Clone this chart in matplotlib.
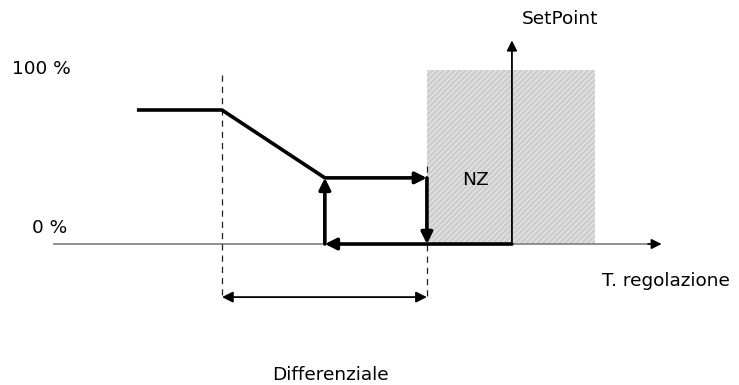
import matplotlib.pyplot as plt
import matplotlib.patches as patches

# temperature scale: setpoint at 0, output in percent
setpoint = 0.0
nz_band = [-10.0, 9.8]           # neutral zone
diff_band = [-34.1, -10.0]       # differenziale
curve_t = [-44.1, -34.1, -22.0]  # output ramp
curve_out = [77.0, 77.0, 38.0]
hyst_t = [-22.0, -10.0]          # hysteresis loop
hyst_out = [38.0, 0.0]
levels = [0.0, 100.0]
level_labels = ['0 %', '100 %']

fig = plt.figure(figsize=(7.39, 3.85), dpi=100)
ax = fig.add_axes([0, 0, 1, 1])
ax.set_xlim(-60.2, 26.7)
ax.set_ylim(-81, 140.2)
ax.axis('off')

def arrow(x0, y0, x1, y1, lw=2.6, color='black', ms=17, style='-|>'):
    ax.annotate('', xy=(x1, y1), xytext=(x0, y0),
                arrowprops=dict(arrowstyle=style, lw=lw, color=color,
                                mutation_scale=ms, shrinkA=0, shrinkB=0))

# neutral zone box
ax.add_patch(patches.Rectangle((nz_band[0], levels[0]), nz_band[1] - nz_band[0],
                               levels[1], facecolor='#cdcdcd', edgecolor='#e4e4e4',
                               hatch='//////', linewidth=0, zorder=1))

# axes
ax.plot([-53.8, 17.0], [0, 0], color='#888888', lw=1.3, zorder=2)
arrow(16.0, 0, 17.6, 0, lw=1.2, ms=15)
arrow(setpoint, 0, setpoint, 117, lw=1.3, ms=15)

# dashed guides
ax.plot([diff_band[0]] * 2, [97, -32], color='#222222', lw=0.9, ls=(0, (5, 4)), zorder=2)
ax.plot([diff_band[1]] * 2, [45, -32], color='#222222', lw=0.9, ls=(0, (5, 4)), zorder=2)
arrow(diff_band[0], -30.5, diff_band[1], -30.5, lw=1.3, ms=16, style='<|-|>')

# output curve
ax.plot(curve_t, curve_out, color='black', lw=2.6, solid_capstyle='butt', zorder=3)
arrow(hyst_t[0], hyst_out[0], hyst_t[1], hyst_out[0])
arrow(hyst_t[1], hyst_out[0], hyst_t[1], hyst_out[1])
arrow(setpoint, hyst_out[1], hyst_t[0], hyst_out[1])
arrow(hyst_t[0], hyst_out[1], hyst_t[0], hyst_out[0])

# labels
fs = 13.3
ax.text(-58.8, 100.5, level_labels[1], fontsize=fs, va='center')
ax.text(-56.4, 9.2, level_labels[0], fontsize=fs, va='center')
ax.text(1.2, 129, 'SetPoint', fontsize=fs, va='center')
ax.text(-5.8, 37, 'NZ', fontsize=fs, va='center')
ax.text(10.6, -21.5, 'T. regolazione', fontsize=fs, va='center')
ax.text(-28.2, -75.5, 'Differenziale', fontsize=fs, va='center')

fig.savefig('out.png', dpi=100)
